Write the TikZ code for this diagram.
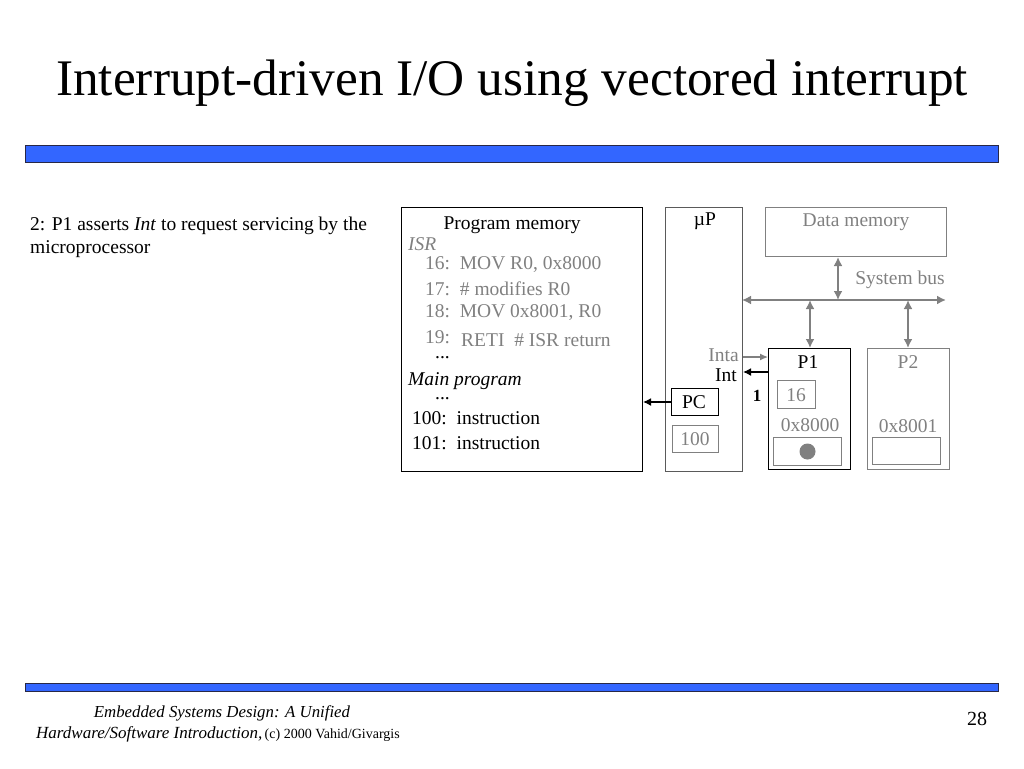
\documentclass[tikz,border=0pt]{standalone}
\usepackage{fontspec}
\setmainfont{Liberation Serif}
\usetikzlibrary{arrows.meta}
\definecolor{barblue}{HTML}{3366FF}
\definecolor{bargray}{HTML}{808080}
\newcommand{\fsd}{\fontsize{19.5}{23}\selectfont}
\begin{document}
\begin{tikzpicture}[x=1pt,y=-1pt,
  bbox/.style={draw=black,line width=1pt,inner sep=0pt},
  gbox/.style={draw=bargray,line width=1pt,inner sep=0pt},
  txt/.style={inner sep=0pt,font=\fsd},
  gtxt/.style={txt,text=bargray},
  barrow/.style={draw=black,line width=1.5pt,-{Latex[length=8pt,width=8pt]}},
  garrow/.style={draw=bargray,line width=1.2pt,-{Latex[length=8pt,width=7pt]}},
  gdarrow/.style={draw=bargray,line width=2pt,{Latex[length=9pt,width=9pt]}-{Latex[length=9pt,width=9pt]}},
  bar/.style={draw={rgb,255:red,40;green,40;blue,70},line width=1pt,fill=barblue}]
\useasboundingbox (0,0) rectangle (1024,768);
% title
\node[inner sep=0pt,font=\fontsize{51.3}{56}\selectfont] (title) at (512,83) {Interrupt-driven I/O using vectored interrupt};
\node[bar,minimum width=973pt,minimum height=17pt,anchor=north west] (topbar) at (25,145) {};
\node[bar,minimum width=973pt,minimum height=8pt,anchor=north west] (botbar) at (25,683) {};
% left text
\node[txt,anchor=west] (l1) at (30,226) {2: P1 asserts \textit{Int} to request servicing by the};
\node[txt,anchor=west] (l2) at (30,249) {microprocessor};
% program memory
\node[bbox,minimum width=241pt,minimum height=264pt,anchor=north west] (pm) at (401,207) {};
\node[txt] (pmt) at (512,225) {Program memory};
\node[gtxt,anchor=west] (isr) at (408,244) {\textit{ISR}};
\node[gtxt,anchor=west] (i16) at (425,265) {16:\ \ MOV R0, 0x8000};
\node[gtxt,anchor=west] (i17) at (425,289) {17:\ \ \# modifies R0};
\node[gtxt,anchor=west] (i18) at (425,313) {18:\ \ MOV 0x8001, R0};
\node[gtxt,anchor=west] (i19) at (425,337) {19:};
\node[gtxt,anchor=west] (i19b) at (461,340) {RETI\ \ \# ISR return};
\node[txt,anchor=base west] (d1) at (435,358) {\smash{...}};
\node[txt,anchor=west] (mp) at (408,381) {\textit{Main program}};
\node[txt,anchor=base west] (d2) at (435,399) {\smash{...}};
\node[txt,anchor=west] (m100) at (412,418) {100:\ \ instruction};
\node[txt,anchor=west] (m101) at (412,443) {101:\ \ instruction};
% microprocessor
\node[draw={rgb,255:red,90;green,90;blue,90},line width=1pt,inner sep=0pt,minimum width=77pt,minimum height=264pt,anchor=north west] (up) at (665,207) {};
\node[txt] (upt) at (705,221) {\textmu P};
\node[bbox,minimum width=47pt,minimum height=27pt,anchor=north west] (pc) at (671,388) {};
\node[txt] (pct) at (694,402) {PC};
\node[gbox,minimum width=46pt,minimum height=27pt,anchor=north west] (pcv) at (672,425) {};
\node[gtxt] (pcvt) at (695,439) {100};
\draw[barrow] (pc.west) -- (pc.west -| pm.east);
\node[gtxt,anchor=east] (inta) at (739,355) {Inta};
\node[txt,anchor=east] (int) at (737,375) {Int};
\node[inner sep=0pt,font=\fontsize{17}{20}\selectfont\bfseries] (one) at (757,396) {1};
% data memory
\node[gbox,minimum width=181pt,minimum height=49pt,anchor=north west] (dm) at (765,207) {};
\node[gtxt] (dmt) at (856,222) {Data memory};
\node[gtxt] (sb) at (900,280) {System bus};
\coordinate (busL) at (742,300);
\coordinate (busR) at (946,300);
\draw[gdarrow] (busL) -- (busR);
% P1
\node[bbox,minimum width=82pt,minimum height=121pt,anchor=north west] (p1) at (768,348) {};
\node[txt] (p1t) at (808,362) {P1};
\node[gbox,minimum width=38pt,minimum height=28pt,anchor=north west] (r16) at (777,380) {};
\node[gtxt] (r16t) at (796,395) {16};
\node[gtxt] (a8000) at (810,425) {0x8000};
\node[gbox,minimum width=68pt,minimum height=28pt,anchor=north west] (s1) at (773,437) {};
\fill[bargray] (s1.center) circle (8pt);
% P2
\node[gbox,minimum width=82pt,minimum height=121pt,anchor=north west] (p2) at (867,348) {};
\node[gtxt] (p2t) at (908,362) {P2};
\node[gtxt] (a8001) at (908,426) {0x8001};
\node[gbox,minimum width=68pt,minimum height=27pt,anchor=north west] (s2) at (872,437) {};
% bus connections
\draw[gdarrow] (dm.south -| 838,0) -- (busL -| 838,0);
\draw[gdarrow] (busL -| 810,0) -- (p1.north -| 810,0);
\draw[gdarrow] (busL -| 908,0) -- (p2.north -| 908,0);
% Inta / Int lines
\draw[garrow] (up.east |- 0,357) -- (p1.west |- 0,357);
\draw[barrow] (p1.west |- 0,372) -- (up.east |- 0,372);
% footer
\node[inner sep=0pt,font=\fontsize{16.8}{19}\selectfont\itshape] (f1) at (222,713) {Embedded Systems Design: A Unified};
\node[inner sep=0pt,anchor=west] (f2) at (36,734) {{\fontsize{17}{19}\selectfont\itshape Hardware/Software Introduction,} {\fontsize{14}{16}\selectfont (c) 2000 Vahid/Givargis}};
\node[inner sep=0pt,font=\fontsize{20}{22}\selectfont] (pg) at (977,719) {28};
\end{tikzpicture}
\end{document}
